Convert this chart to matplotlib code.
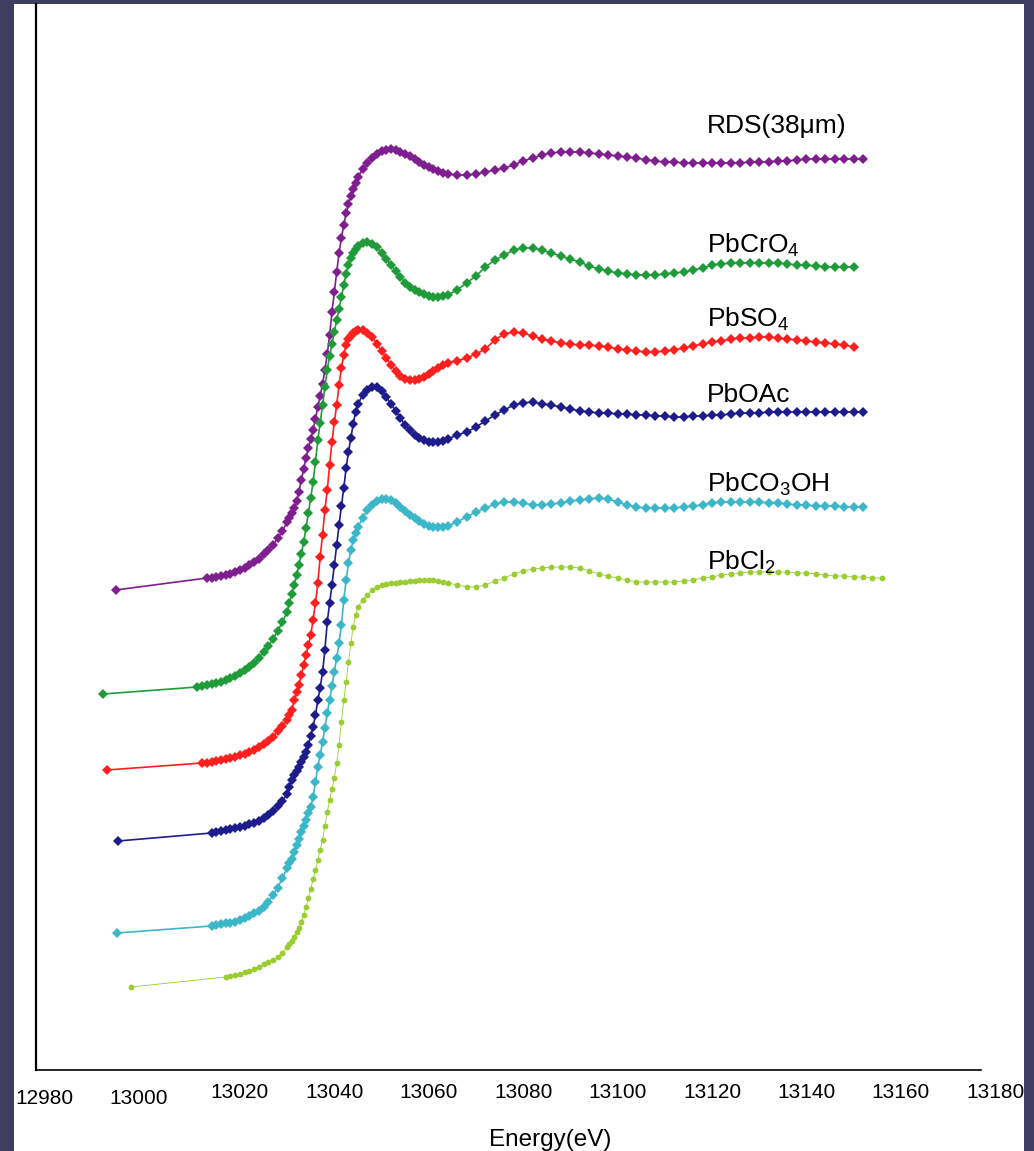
import matplotlib.pyplot as plt
import numpy as np
from matplotlib.patches import Rectangle
from matplotlib.transforms import ScaledTranslation

plt.rcParams['font.family'] = ['Liberation Sans', 'DejaVu Sans']
plt.rcParams['mathtext.fontset'] = 'custom'
plt.rcParams['mathtext.rm'] = 'Liberation Sans'
plt.rcParams['mathtext.it'] = 'Liberation Sans:italic'
plt.rcParams['mathtext.bf'] = 'Liberation Sans:bold'

# energy points (eV) shared by every scan from 13030 eV upwards
grid_e = [13030, 13030.5, 13031, 13031.5, 13032, 13032.5, 13033, 13033.5, 13034, 13034.5,
          13035, 13035.5, 13036, 13036.5, 13037, 13037.5, 13038, 13038.5, 13039, 13039.5,
          13040, 13040.5, 13041, 13041.5, 13042, 13042.5, 13043, 13043.5, 13044, 13044.5,
          13045, 13046, 13047, 13048, 13049, 13050, 13051, 13052, 13053, 13054,
          13055, 13056, 13057, 13058, 13059, 13060, 13061, 13062, 13063, 13064,
          13066, 13068, 13070, 13072, 13074, 13076, 13078, 13080, 13082, 13084,
          13086, 13088, 13090, 13092, 13094, 13096, 13098, 13100, 13102, 13104,
          13106, 13108, 13110, 13112, 13114, 13116, 13118, 13120, 13122, 13124,
          13126, 13128, 13130, 13132, 13134, 13136, 13138, 13140, 13142, 13144,
          13146, 13148, 13150, 13152, 13154, 13156]

# stacked absorbance, arbitrary units
rds_pre_e = [12993.7, 13013, 13014, 13015, 13016, 13017, 13018, 13019, 13020, 13021,
             13022, 13023, 13024, 13025, 13026, 13027, 13028, 13029]
rds_pre = [480, 492, 492, 493, 494, 495, 496, 498, 500, 502, 505, 508, 511, 516, 520, 525, 532, 539]
rds = [548, 552, 557, 562, 569, 578, 590, 601, 612, 622, 631, 640, 651, 663, 674, 686, 700, 716, 735, 758,
       778, 798, 817, 832, 845, 857, 866, 874, 881, 887,
       893, 901, 907, 912, 916, 919, 920, 921, 920, 918, 916, 914, 911, 908, 905, 903, 901, 899, 897, 896,
       895, 895, 896, 898, 900, 902, 905, 909, 912, 915, 917, 918, 918, 918, 917, 916, 915, 914, 913, 912,
       910, 909, 908, 908, 907, 907, 907, 907, 907, 907, 907, 908, 908, 908, 909, 909, 910, 911, 911, 911,
       911, 911, 911, 911]

pbcro4_pre_e = [12991.0, 13011, 13012, 13013, 13014, 13015, 13016, 13017, 13018, 13019,
                13020, 13021, 13022, 13023, 13024, 13025, 13026, 13027, 13028, 13029]
pbcro4_pre = [376, 383, 384, 385, 386, 387, 388, 390, 392, 394, 397, 400, 403, 407, 412, 418, 424, 431, 439, 448]
pbcro4 = [458, 467, 476, 485, 495, 505, 516, 528, 542, 557, 572, 588, 608, 630, 647, 665, 683, 700, 714, 726,
          738, 750, 761, 773, 785, 796, 805, 812, 817, 821,
          824, 827, 828, 826, 823, 817, 811, 805, 799, 793, 787, 783, 780, 778, 776, 774, 773, 773, 774, 775,
          780, 787, 794, 803, 810, 815, 820, 822, 822, 820, 817, 814, 811, 808, 804, 801, 799, 797, 796, 795,
          795, 795, 796, 797, 798, 800, 802, 805, 806, 807, 807, 807, 807, 807, 807, 806, 805, 805, 804, 803,
          803, 803, 803]

pbso4_pre_e = [12991.8, 13012, 13013, 13014, 13015, 13016, 13017, 13018, 13019, 13020,
               13021, 13022, 13023, 13024, 13025, 13026, 13027, 13028, 13029]
pbso4_pre = [300, 307, 307, 308, 309, 310, 311, 312, 313, 315, 316, 318, 320, 323, 326, 329, 333, 339, 344]
pbso4 = [350, 355, 360, 370, 378, 385, 395, 405, 415, 425, 435, 450, 467, 487, 513, 535, 560, 580, 605, 628,
         648, 665, 685, 702, 715, 725, 731, 734, 737, 739,
         740, 740, 737, 733, 726, 719, 712, 705, 699, 694, 691, 690, 690, 691, 693, 696, 699, 702, 705, 707,
         709, 712, 716, 721, 730, 736, 738, 737, 734, 731, 729, 727, 726, 725, 725, 724, 723, 721, 720, 719,
         718, 718, 719, 720, 722, 724, 726, 728, 729, 731, 732, 732, 733, 733, 732, 731, 730, 729, 728, 727,
         726, 725, 723]

pboac_pre_e = [12994.2, 13014, 13015, 13016, 13017, 13018, 13019, 13020, 13021, 13022,
               13023, 13024, 13025, 13026, 13027, 13028, 13029]
pboac_pre = [229, 237, 238, 239, 240, 241, 242, 243, 244, 246, 247, 249, 252, 255, 259, 264, 269]
pboac = [276, 283, 290, 295, 299, 303, 308, 313, 318, 325, 334, 343, 355, 370, 382, 398, 420, 448, 467, 485,
         505, 525, 545, 564, 582, 602, 618, 632, 646, 658,
         666, 675, 680, 683, 683, 679, 673, 666, 659, 652, 645, 640, 635, 632, 630, 628, 628, 628, 629, 631,
         635, 638, 643, 649, 655, 660, 665, 667, 668, 666, 665, 663, 661, 659, 658, 657, 657, 656, 656, 655,
         655, 654, 654, 653, 653, 654, 654, 655, 655, 656, 657, 657, 657, 658, 658, 658, 658, 658, 658, 658,
         658, 658, 658, 658]

pbco3oh_pre_e = [12993.9, 13014, 13015, 13016, 13017, 13018, 13019, 13020, 13021, 13022,
                 13023, 13024, 13025, 13026, 13027, 13028, 13029]
pbco3oh_pre = [137, 144, 145, 146, 147, 147, 148, 150, 152, 154, 157, 159, 163, 168, 175, 182, 192]
pbco3oh = [202, 207, 211, 218, 225, 231, 238, 244, 250, 257, 263, 273, 288, 303, 315, 328, 342, 357, 370, 384,
           398, 412, 427, 445, 470, 490, 507, 520, 530, 537,
           543, 552, 560, 565, 569, 571, 571, 570, 567, 563, 559, 555, 552, 549, 546, 544, 543, 543, 543, 544,
           548, 553, 558, 562, 566, 568, 568, 567, 565, 565, 566, 567, 569, 570, 571, 572, 571, 568, 565, 563,
           562, 562, 562, 562, 563, 564, 565, 567, 568, 568, 568, 568, 568, 567, 567, 566, 565, 565, 564, 564,
           564, 563, 563, 563]

pbcl2_pre_e = [12996.9, 13017, 13018, 13019, 13020, 13021, 13022, 13023, 13024, 13025,
               13026, 13027, 13028, 13029]
pbcl2_pre = [83, 93, 94, 95, 96, 98, 99, 101, 103, 106, 108, 110, 113, 117]
pbcl2 = [123, 126, 129, 133, 138, 142, 148, 155, 163, 172, 181, 191, 200, 210, 220, 230, 244, 258, 270, 281,
         292, 307, 325, 348, 370, 388, 408, 427, 443, 455,
         463, 470, 475, 480, 483, 485, 486, 487, 487, 488, 488, 489, 489, 490, 490, 490, 490, 489, 488, 487,
         485, 483, 483, 485, 489, 492, 496, 499, 501, 502, 503, 503, 503, 502, 499, 496, 494, 492, 490, 488,
         488, 488, 488, 488, 489, 490, 492, 493, 495, 496, 497, 498, 498, 498, 498, 498, 497, 497, 496, 495,
         494, 494, 493, 493, 492, 492]

names = ['RDS(38\u03bcm)', r'PbCrO$_\mathrm{4}$', r'PbSO$_\mathrm{4}$', 'PbOAc',
         r'PbCO$_\mathrm{3}$OH', r'PbCl$_\mathrm{2}$']
label_y = [937, 817, 743, 668, 578, 500]
xticks = [12980, 13000, 13020, 13040, 13060, 13080, 13100, 13120, 13140, 13160, 13180]

colors = ['#7f1f8f', '#1f9b3a', '#ff1f1f', '#1c1c8a', '#3cb6c9', '#9acd32']
markers = ['D', 'D', 'D', 'D', 'D', 'o']
msizes = [5.5, 5.5, 5.5, 5.5, 5.5, 4.2]

spectra = [(rds_pre_e, rds_pre, rds), (pbcro4_pre_e, pbcro4_pre, pbcro4),
           (pbso4_pre_e, pbso4_pre, pbso4), (pboac_pre_e, pboac_pre, pboac),
           (pbco3oh_pre_e, pbco3oh_pre, pbco3oh), (pbcl2_pre_e, pbcl2_pre, pbcl2)]

W, H = 1034, 1151
fig = plt.figure(figsize=(W / 100, H / 100), dpi=100, facecolor='#3f3e62')
fig.patches.append(Rectangle((14 / W, 0), (1024 - 14) / W, (H - 4) / H,
                             transform=fig.transFigure, facecolor='white', edgecolor='none', zorder=-10))

x0, x1 = 12976.8, 13181
ax = fig.add_axes([36 / W, (H - 1070) / H, (240 + (x1 - 13020) * 4.72 - 36) / W, (1070 - 4) / H])
ax.set_facecolor('none')
ax.set_zorder(5)

for j, (pre_e, pre, vals) in enumerate(spectra):
    e = np.array(pre_e + grid_e[:len(vals)])
    a = np.array(pre + vals)
    lw = 0.6 if j == 5 else 1.2
    ax.plot(e, a, color=colors[j], lw=lw, marker=markers[j], ms=msizes[j], mew=0)
    ax.text(13119, label_y[j], names[j], fontsize=19, va='baseline', ha='left')

ax.set_xlim(x0, x1)
ax.set_ylim(0, 1066)
ax.set_yticks([])
ax.set_xticks(xticks)
ax.set_xticklabels([str(t) for t in xticks], fontsize=15)
ax.tick_params(axis='x', length=0, pad=9)
for k, lab in enumerate(ax.get_xticklabels()):
    if k < 2:
        lab.set_transform(lab.get_transform() +
                          ScaledTranslation(-7 / 100, -6 / 100, fig.dpi_scale_trans))

ax.spines['top'].set_visible(False)
ax.spines['right'].set_visible(False)
ax.spines['left'].set_linewidth(1.6)
ax.spines['bottom'].set_linewidth(1.2)
ax.spines['bottom'].set_bounds(12977, 13177)

fig.text(550 / W, 1 - 1140 / H, 'Energy(eV)', fontsize=17.5, ha='center', va='center')

fig.savefig('out.png', dpi=100, facecolor=fig.get_facecolor())
